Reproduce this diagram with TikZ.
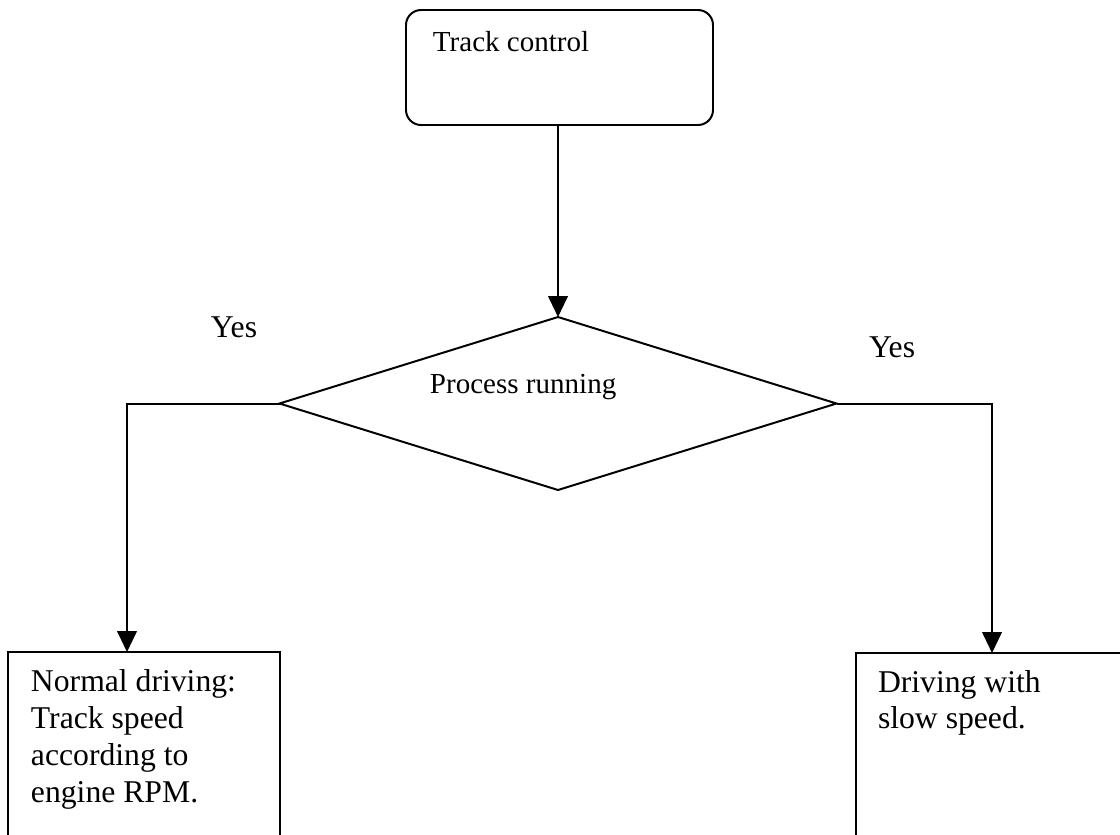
\documentclass[tikz,border=0pt]{standalone}
\usepackage{fontspec}
\setmainfont{Liberation Serif}
\usetikzlibrary{shapes.geometric,arrows.meta}
\def\u{0.3788pt}
\begin{document}
\begin{tikzpicture}[x=\u,y=-\u, line width=0.75pt,
  box/.style={draw, rectangle, outer sep=0pt, inner sep=0pt, anchor=north west},
  arr/.style={-{Triangle[length=7.9pt,width=7.4pt]}},
  lbl/.style={inner sep=0pt, anchor=base west, align=left},
  big/.style={font=\fontsize{12}{13.9}\selectfont},
  mid/.style={font=\fontsize{11}{12.7}\selectfont}]
\clip (0,0) rectangle (1120,834);
% boxes
\node[box, rounded corners=5.7pt, minimum width=307*\u, minimum height=115*\u] (tc) at (406,10) {};
\node[draw, diamond, minimum width=557*\u, minimum height=173*\u, inner sep=0pt, outer sep=0pt] (dec) at (558,403.5) {};
\node[box, minimum width=272*\u, minimum height=300*\u] (nd) at (8,652) {};
\node[box, minimum width=400*\u, minimum height=300*\u] (ds) at (856,653) {};
\coordinate (ndin) at (127,652);
\coordinate (dsin) at (992,653);
% texts (base anchor = baseline of the last line)
\node[lbl, mid] (tct) at (432,51) {Track control};
\node[lbl, mid] (dect) at (429,393) {Process running};
\node[lbl, big] (ndt) at (30,802) {Normal driving:\\Track speed\\according to\\engine RPM.};
\node[lbl, big] (dst) at (877,728.7) {Driving with\\slow speed.};
\node[lbl, big] (yl) at (210,337) {Yes};
\node[lbl, big] (yr) at (868,357) {Yes};
% connectors
\draw[arr] (tc.south -| dec.north) -- (dec.north);
\draw[arr] (dec.west) -| (ndin);
\draw[arr] (dec.east) -| (dsin);
\end{tikzpicture}
\end{document}
